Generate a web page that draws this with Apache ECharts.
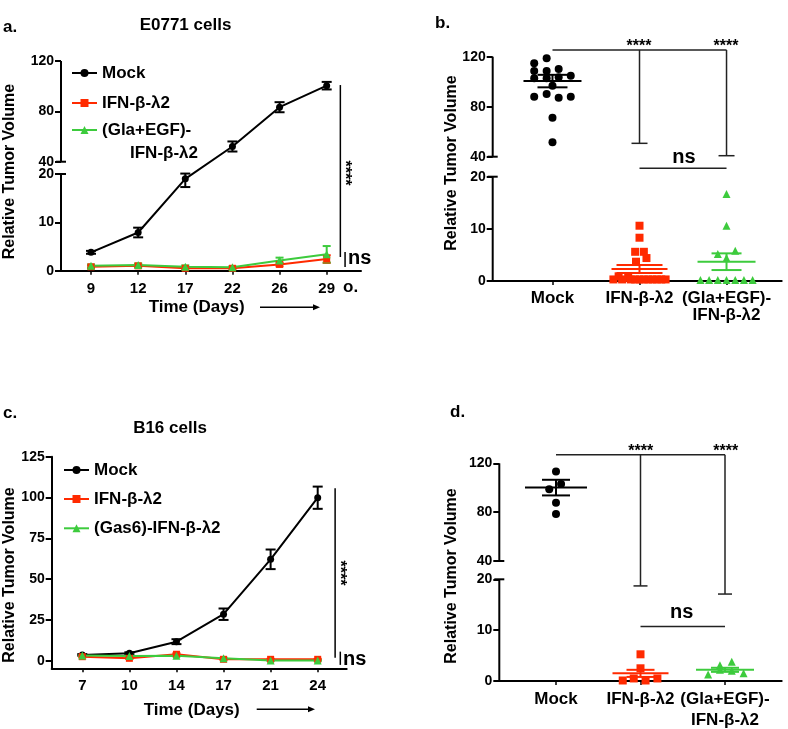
<!DOCTYPE html>
<html><head><meta charset="utf-8">
<script src="https://cdn.jsdelivr.net/npm/echarts@6/dist/echarts.min.js"></script>
<style>html,body{margin:0;padding:0;background:#fff}#c{width:788px;height:729px}</style>
</head><body><div id="c"></div>
<script>
// ================= DATA =================
// Panel a: E0771 cells (time course)
const daysA = ['9', '12', '17', '22', '26', '29'];
const mockA = [3.8, 7.9, 19.0, 52.1, 83.3, 100.4];
const mockAErr = [0.3, 1.0, 1.7, 4.0, 4.0, 3.0];
const ifnA = [0.8, 1.0, 0.5, 0.5, 1.3, 2.4];
const ifnAErr = [0.3, 0.3, 0.2, 0.2, 0.4, 0.8];
const glaA = [1.0, 1.2, 0.8, 0.7, 2.1, 3.4];
const glaAErr = [0.3, 0.3, 0.3, 0.2, 0.6, 1.7];
const ticksBroken = [0, 10, 20, 40, 80, 120];

// Panel c: B16 cells (time course)
const daysC = ['7', '10', '14', '17', '21', '24'];
const mockC = [3.7, 4.7, 11.8, 28.6, 62.2, 99.9];
const mockCErr = [0.5, 0.6, 1.5, 3.5, 6.0, 6.8];
const ifnC = [2.6, 1.6, 4.1, 1.0, 1.0, 1.0];
const ifnCErr = [0.4, 0.4, 0.6, 0.4, 0.3, 0.3];
const gasC = [3.3, 3.0, 3.2, 1.6, 0.2, 0.2];
const gasCErr = [0.4, 0.4, 0.5, 0.4, 0.2, 0.2];
const ticksC = [0, 25, 50, 75, 100, 125];

// Panels b, d: individual tumours ([spread within group, value])
const groups = ['Mock', 'IFN-β-λ2', '(Gla+EGF)-\nIFN-β-λ2'];
const mockB = [[-0.21,114.7],[-0.067,118.7],[-0.21,108.6],[-0.067,108.6],[0.071,110.2],[-0.21,102.7],[-0.067,102.7],[0.071,103.5],[0.21,104.8],[0,96.8],[-0.21,88],[-0.067,90.2],[0.071,87.2],[0.21,88],[0,71.2],[0,51.5]];
const ifnB = [[0,10.6],[0,8.3],[-0.05,5.6],[0.05,5.6],[0.08,4.4],[-0.04,3.7],[-0.24,0.9],[-0.13,0.6],[-0.3,0.3],[-0.2,0.3],[-0.1,0.3],[0,0.3],[0.1,0.3],[0.2,0.3],[0.3,0.3],[0.25,0.3],[0.15,0.3],[0.05,0.3],[-0.05,0.3]];
const glaB = [[0,16.7],[0,10.6],[0.1,5.8],[-0.1,5.2],[0,4.4],[-0.3,0.2],[-0.2,0.2],[-0.1,0.2],[0,0.2],[0.1,0.2],[0.2,0.2],[0.3,0.2]];
const meanB = [100.5, 2.3, 3.7];
const semB = [5.0, 0.75, 1.6];

const mockD = [[0,120.1],[0,113.2],[0.06,103.1],[-0.08,98.8],[0,87.8],[0,78.5]];
const ifnD = [[0,5.25],[0,2.5],[-0.21,0.1],[-0.08,0.5],[0.06,0.1],[0.2,0.5]];
const glaD = [[-0.2,1.3],[-0.06,3.1],[0.08,3.8],[0.22,1.5],[-0.06,2.2],[0.08,2.0]];
const meanD = [100.1, 1.5, 2.2];
const semD = [6.4, 0.7, 0.4];

// Significance annotations (data units)
const sigTopB = 125.4, sigEndsB = [50.7, 40.8], nsLevelB = 28.4;
const sigTopD = 126.9, sigEndsD = [18.7, 17.1], nsLevelD = 10.7;
const sigLineA = [5.29, 100.9, 2.83], nsLineA = [5.39, 3.87, 0.77];
const sigLineC = [5.37, 105.7, 2.0], nsLineC = [5.48, 5.7, -2.4];

// ================= STYLE / LAYOUT =================
const FONT = '"Liberation Sans", Arial, Helvetica, sans-serif';
const RED = '#FF2A00', GREEN = '#3DCB3D', BLACK = '#000000', BR = '#222222';

// broken-axis scale: values above the break are compressed
function breakScale(lowMax, upMin, gapV, k) {
  return v => v <= lowMax ? v : (v >= upMin ? lowMax + gapV + (v - upMin) * k
                                            : lowMax + (v - lowMax) / (upMin - lowMax) * gapV);
}
const fA = breakScale(20, 40, 2.54, 0.2604);
const fB = breakScale(20, 40, 3.835, 0.2397);
const fD = breakScale(20, 40, 3.599, 0.2402);
const fC = v => v;

const xRange = { a: [-0.637, 5.728], b: [-0.687, 2.634], c: [-0.65, 5.616], d: [-0.671, 2.671] };

function yAxisCfg(gi, f, ticks, vmin, vmax, showLine) {
  const virt = ticks.map(f);
  return {
    type: 'value', gridIndex: gi, min: vmin, max: vmax, splitLine: { show: false },
    axisLine: { show: showLine, onZero: false, lineStyle: { color: BLACK, width: 2 } },
    axisTick: { show: true, customValues: virt, length: 6, lineStyle: { color: BLACK, width: 2 } },
    axisLabel: {
      customValues: virt, margin: 7, color: BLACK, fontSize: 14, fontWeight: 'bold', fontFamily: FONT,
      formatter: v => { const i = virt.findIndex(t => Math.abs(t - v) < 1e-6); return i < 0 ? '' : String(ticks[i]); }
    }
  };
}
function xAxisCfg(gi, labels, range, fontSize, lineHeight, margin) {
  const vals = labels.map((_, i) => i);
  return {
    type: 'value', gridIndex: gi, min: range[0], max: range[1], splitLine: { show: false },
    axisLine: { show: true, onZero: false, lineStyle: { color: BLACK, width: 2 } },
    axisTick: { show: true, customValues: vals, length: 4, lineStyle: { color: BLACK, width: 1.5 } },
    axisLabel: {
      customValues: vals, margin, color: BLACK, fontSize, fontWeight: 'bold', fontFamily: FONT, lineHeight,
      formatter: v => { const i = Math.round(v); return Math.abs(i - v) < 1e-6 && labels[i] !== undefined ? labels[i] : ''; }
    }
  };
}
function lineSeries(gi, name, vals, f, color, symbol, size) {
  return {
    type: 'line', name, xAxisIndex: gi, yAxisIndex: gi, z: 3,
    data: vals.map((v, i) => [i, f(v)]),
    symbol, symbolSize: size, itemStyle: { color }, lineStyle: { color, width: 2 }
  };
}
function errSeries(gi, vals, errs, f, color, cap) {
  return {
    type: 'custom', xAxisIndex: gi, yAxisIndex: gi, clip: false, z: 3, silent: true,
    data: vals.map((v, i) => [i, f(v - errs[i]), f(v + errs[i])]),
    encode: { x: 0, y: [1, 2] },
    renderItem: (p, api) => {
      const x = api.value(0);
      const lo = api.coord([x, api.value(1)]), hi = api.coord([x, api.value(2)]);
      const st = { stroke: color, lineWidth: 2 };
      return { type: 'group', children: [
        { type: 'line', shape: { x1: lo[0], y1: lo[1], x2: hi[0], y2: hi[1] }, style: st },
        { type: 'line', shape: { x1: lo[0] - cap, y1: lo[1], x2: lo[0] + cap, y2: lo[1] }, style: st },
        { type: 'line', shape: { x1: hi[0] - cap, y1: hi[1], x2: hi[0] + cap, y2: hi[1] }, style: st }
      ] };
    }
  };
}
function dotSeries(gi, cat, pts, f, color, symbol, size) {
  return {
    type: 'scatter', xAxisIndex: gi, yAxisIndex: gi, z: 2, silent: true,
    data: pts.map(p => [cat + p[0], f(p[1])]),
    symbol, symbolSize: size, itemStyle: { color, opacity: 1 }
  };
}
function meanSeries(gi, cat, mean, sem, f, color, mHalf, sHalf) {
  return {
    type: 'custom', xAxisIndex: gi, yAxisIndex: gi, clip: false, z: 5, silent: true,
    data: [[cat, f(mean), f(mean - sem), f(mean + sem)]], encode: { x: 0, y: [1, 2, 3] },
    renderItem: (p, api) => {
      const x = api.value(0);
      const m = api.coord([x, api.value(1)]), lo = api.coord([x, api.value(2)]), hi = api.coord([x, api.value(3)]);
      const st = { stroke: color, lineWidth: 2 };
      return { type: 'group', children: [
        { type: 'line', shape: { x1: m[0] - mHalf, y1: m[1], x2: m[0] + mHalf, y2: m[1] }, style: st },
        { type: 'line', shape: { x1: lo[0] - sHalf, y1: lo[1], x2: lo[0] + sHalf, y2: lo[1] }, style: st },
        { type: 'line', shape: { x1: hi[0] - sHalf, y1: hi[1], x2: hi[0] + sHalf, y2: hi[1] }, style: st },
        { type: 'line', shape: { x1: lo[0], y1: lo[1], x2: hi[0], y2: hi[1] }, style: st }
      ] };
    }
  };
}
// segments: [x1, y1, x2, y2, capHalfPx]
function segSeries(gi, segs, color, width) {
  return {
    type: 'custom', xAxisIndex: gi, yAxisIndex: gi, clip: false, z: 4, silent: true,
    data: segs, encode: { x: [0, 2], y: [1, 3] },
    renderItem: (p, api) => {
      const a = api.coord([api.value(0), api.value(1)]), b = api.coord([api.value(2), api.value(3)]);
      const c = api.value(4);
      const st = { stroke: color, lineWidth: width };
      const ch = [{ type: 'line', shape: { x1: a[0], y1: a[1], x2: b[0], y2: b[1] }, style: st }];
      if (c > 0) ch.push({ type: 'line', shape: { x1: b[0] - c, y1: b[1], x2: b[0] + c, y2: b[1] }, style: st });
      return { type: 'group', children: ch };
    }
  };
}
function brokenAxisSegs(xmin, f) {
  return [[xmin, f(0), xmin, f(20), 5], [xmin, f(120), xmin, f(40), 5]];
}
function bracketSegs(top, ends, ns, f, cap) {
  return [[0, f(top), 2, f(top), 0], [1, f(top), 1, f(ends[0]), cap], [2, f(top), 2, f(ends[1]), cap], [1, f(ns), 2, f(ns), 0]];
}
function legendItem(name, left, top, label) {
  return {
    data: [name], left, top, padding: 0, itemWidth: 25, itemHeight: 10, selectedMode: false,
    textStyle: { fontSize: 17, fontWeight: 'bold', fontFamily: FONT, color: BLACK, lineHeight: 18 },
    formatter: label ? () => label : undefined
  };
}
function txt(x, y, s, size, align, rot) {
  return { type: 'text', x, y, rotation: rot || 0, silent: true,
    style: { text: s, fill: BLACK, fontSize: size, fontWeight: 'bold', fontFamily: FONT,
      align: align || 'left', verticalAlign: 'middle' } };
}
function arrow(x1, x2, y) {
  return [
    { type: 'line', silent: true, shape: { x1, y1: y, x2: x2 - 5, y2: y }, style: { stroke: BLACK, lineWidth: 1.5 } },
    { type: 'polygon', silent: true, shape: { points: [[x2, y], [x2 - 7, y - 3], [x2 - 7, y + 3]] }, style: { fill: BLACK } }
  ];
}

const option = {
  animation: false,
  backgroundColor: '#fff',
  textStyle: { fontFamily: FONT },
  grid: [
    { left: 61, top: 61, width: 300, height: 209.7, outerBoundsMode: 'none' },
    { left: 492.7, top: 56.7, width: 289, height: 224.3, outerBoundsMode: 'none' },
    { left: 51.7, top: 456.7, width: 295, height: 211.6, outerBoundsMode: 'none' },
    { left: 499.3, top: 463.3, width: 282.4, height: 217.7, outerBoundsMode: 'none' }
  ],
  xAxis: [
    xAxisCfg(0, daysA, xRange.a, 15, 18, 9),
    xAxisCfg(1, groups, xRange.b, 17, 17, 9),
    xAxisCfg(2, daysC, xRange.c, 15, 18, 9),
    xAxisCfg(3, groups, xRange.d, 17, 21, 8)
  ],
  yAxis: [
    yAxisCfg(0, fA, ticksBroken, 0, fA(120), false),
    yAxisCfg(1, fB, ticksBroken, 0, fB(120), false),
    yAxisCfg(2, fC, ticksC, -4.5, 125, true),
    yAxisCfg(3, fD, ticksBroken, 0, fD(120), false)
  ],
  legend: [
    legendItem('Mock', 71, 64),
    legendItem('IFN-β-λ2', 71, 94),
    legendItem('(Gla+EGF)-IFN-β-λ2', 71, 121, '(Gla+EGF)-'),
    legendItem('Mock', 63, 461),
    legendItem('IFN-β-λ2', 63, 490),
    legendItem('(Gas6)-IFN-β-λ2', 63, 519.3)
  ],
  series: [
    // panel a
    segSeries(0, brokenAxisSegs(xRange.a[0], fA), BLACK, 2),
    lineSeries(0, 'Mock', mockA, fA, BLACK, 'circle', 7),
    errSeries(0, mockA, mockAErr, fA, BLACK, 5),
    lineSeries(0, 'IFN-β-λ2', ifnA, fA, RED, 'rect', 7),
    errSeries(0, ifnA, ifnAErr, fA, RED, 4),
    lineSeries(0, '(Gla+EGF)-IFN-β-λ2', glaA, fA, GREEN, 'triangle', 8),
    errSeries(0, glaA, glaAErr, fA, GREEN, 4),
    segSeries(0, [[sigLineA[0], fA(sigLineA[1]), sigLineA[0], fA(sigLineA[2]), 0],
                  [nsLineA[0], fA(nsLineA[1]), nsLineA[0], fA(nsLineA[2]), 0]], BLACK, 1.5),
    // panel b
    segSeries(1, brokenAxisSegs(xRange.b[0], fB), BLACK, 2),
    dotSeries(1, 0, mockB, fB, BLACK, 'circle', 8),
    dotSeries(1, 1, ifnB, fB, RED, 'rect', 8),
    dotSeries(1, 2, glaB, fB, GREEN, 'triangle', 8),
    meanSeries(1, 0, meanB[0], semB[0], fB, BLACK, 29, 15),
    meanSeries(1, 1, meanB[1], semB[1], fB, RED, 28, 23),
    meanSeries(1, 2, meanB[2], semB[2], fB, GREEN, 29, 15),
    segSeries(1, bracketSegs(sigTopB, sigEndsB, nsLevelB, fB, 8), BR, 1.5),
    // panel c
    lineSeries(2, 'Mock', mockC, fC, BLACK, 'circle', 7),
    errSeries(2, mockC, mockCErr, fC, BLACK, 5),
    lineSeries(2, 'IFN-β-λ2', ifnC, fC, RED, 'rect', 7),
    errSeries(2, ifnC, ifnCErr, fC, RED, 4),
    lineSeries(2, '(Gas6)-IFN-β-λ2', gasC, fC, GREEN, 'triangle', 8),
    errSeries(2, gasC, gasCErr, fC, GREEN, 4),
    segSeries(2, [[sigLineC[0], sigLineC[1], sigLineC[0], sigLineC[2], 0],
                  [nsLineC[0], nsLineC[1], nsLineC[0], nsLineC[2], 0]], BLACK, 1.5),
    // panel d
    segSeries(3, brokenAxisSegs(xRange.d[0], fD), BLACK, 2),
    dotSeries(3, 0, mockD, fD, BLACK, 'circle', 8),
    dotSeries(3, 1, ifnD, fD, RED, 'rect', 8),
    dotSeries(3, 2, glaD, fD, GREEN, 'triangle', 8),
    meanSeries(3, 0, meanD[0], semD[0], fD, BLACK, 31, 14),
    meanSeries(3, 1, meanD[1], semD[1], fD, RED, 28, 14),
    meanSeries(3, 2, meanD[2], semD[2], fD, GREEN, 29, 14),
    segSeries(3, bracketSegs(sigTopD, sigEndsD, nsLevelD, fD, 7), BR, 1.5)
  ],
  graphic: [
    txt(3, 27, 'a.', 17), txt(435, 23, 'b.', 17), txt(3, 413, 'c.', 17), txt(450, 412, 'd.', 17),
    txt(185.5, 25, 'E0771 cells', 17, 'center'),
    txt(170, 428, 'B16 cells', 17, 'center'),
    txt(10, 171.5, 'Relative Tumor Volume', 16, 'center', Math.PI / 2),
    txt(451.7, 163, 'Relative Tumor Volume', 16, 'center', Math.PI / 2),
    txt(10, 575, 'Relative Tumor Volume', 16, 'center', Math.PI / 2),
    txt(451.7, 576, 'Relative Tumor Volume', 16, 'center', Math.PI / 2),
    txt(196.7, 307.7, 'Time (Days)', 17, 'center'),
    txt(191.7, 710, 'Time (Days)', 17, 'center'),
    ...arrow(260, 320, 307.3),
    ...arrow(256.7, 315, 709.3),
    txt(343, 287, 'o.', 17),
    txt(130, 153, 'IFN-β-λ2', 17),
    // significance text
    txt(639, 46.3, '****', 16, 'center'), txt(726, 46.3, '****', 16, 'center'),
    txt(640.7, 451.3, '****', 16, 'center'), txt(725.7, 451.3, '****', 16, 'center'),
    txt(344.4, 173, '****', 16, 'center', -Math.PI / 2),
    txt(339.4, 573, '****', 16, 'center', -Math.PI / 2),
    txt(684, 157, 'ns', 20, 'center'), txt(681.7, 612.5, 'ns', 20, 'center'),
    txt(348, 258, 'ns', 20), txt(343, 659, 'ns', 20)
  ]
};
const chart = echarts.init(document.getElementById('c'), null, { renderer: 'canvas' });
chart.setOption(option);
</script>
</body></html>
